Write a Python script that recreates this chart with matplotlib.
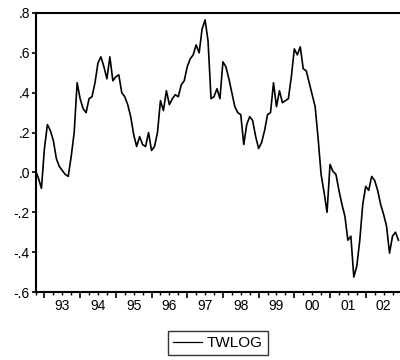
import numpy as np
import pandas as pd
import matplotlib
matplotlib.use("Agg")
import matplotlib.pyplot as plt
from matplotlib.ticker import MultipleLocator, FixedLocator, NullFormatter

plt.rcParams['font.family'] = ['Liberation Sans', 'DejaVu Sans']

# monthly TWLOG, 1992M10 - 2002M12
twlog = [
    0.01, -0.03, -0.08, 0.12, 0.24, 0.21, 0.16, 0.07, 0.03, 0.01,
    -0.01, -0.02, 0.08, 0.20, 0.45, 0.37, 0.32, 0.30, 0.37, 0.38,
    0.45, 0.55, 0.58, 0.53, 0.47, 0.58, 0.46, 0.48, 0.49, 0.40,
    0.38, 0.34, 0.28, 0.19, 0.13, 0.18, 0.14, 0.13, 0.20, 0.11,
    0.13, 0.20, 0.36, 0.31, 0.41, 0.34, 0.37, 0.39, 0.38, 0.44,
    0.46, 0.53, 0.57, 0.59, 0.64, 0.60, 0.72, 0.765, 0.66, 0.37,
    0.38, 0.42, 0.37, 0.555, 0.53, 0.47, 0.40, 0.33, 0.30, 0.29,
    0.14, 0.24, 0.28, 0.26, 0.18, 0.12, 0.15, 0.21, 0.29, 0.30,
    0.45, 0.33, 0.41, 0.35, 0.36, 0.37, 0.48, 0.62, 0.59, 0.63,
    0.52, 0.51, 0.45, 0.39, 0.33, 0.17, -0.01, -0.10, -0.20, 0.04,
    0.005, -0.01, -0.09, -0.16, -0.22, -0.34, -0.32, -0.525, -0.47, -0.34,
    -0.16, -0.07, -0.09, -0.02, -0.04, -0.09, -0.16, -0.21, -0.27, -0.405,
    -0.32, -0.30, -0.34,
]
dates = pd.date_range("1992-10-01", periods=len(twlog), freq="MS")
t = dates.year + (dates.month - 1) / 12.0

years = np.arange(1993, 2003)
year_labels = ["%02d" % (y % 100) for y in years]
y_ticks = [0.8, 0.6, 0.4, 0.2, 0.0, -0.2, -0.4, -0.6]
y_labels = [".8", ".6", ".4", ".2", ".0", "-.2", "-.4", "-.6"]

fig = plt.figure(figsize=(4, 3.6), dpi=100)
ax = fig.add_axes([35.5 / 400, 1 - 292 / 360, (402 - 35.5) / 400, (292 - 13) / 360])

ax.plot(t, twlog, color="black", linewidth=1.2, label="TWLOG")

ax.set_ylim(-0.6, 0.8)
ax.set_xlim(t[0], t[0] + (402 - 35.5) / 35.7)

ax.set_yticks(y_ticks)
ax.set_yticklabels(y_labels)

# long ticks at year starts, short ones each quarter, labels mid-year
ax.xaxis.set_major_locator(FixedLocator(np.arange(1993, 2004)))
ax.xaxis.set_major_formatter(NullFormatter())
ax.xaxis.set_minor_locator(MultipleLocator(0.25))
ax.tick_params(axis="x", which="major", direction="out", length=4.5, width=1.2)
ax.tick_params(axis="x", which="minor", direction="out", length=2, width=1.0)
ax.tick_params(axis="y", direction="out", length=3, width=1.2, labelsize=10, pad=1)
for y, lab in zip(years, year_labels):
    ax.text(y + 0.5, -0.633, lab, ha="center", va="top", fontsize=10)

for s in ax.spines.values():
    s.set_linewidth(1.5)

leg = fig.legend(loc="center", bbox_to_anchor=(218 / 400, 1 - 343 / 360),
                 fontsize=11, frameon=True, fancybox=False, edgecolor="black",
                 handlelength=1.9, handletextpad=0.3, borderpad=0.35,
                 borderaxespad=0)
leg.get_frame().set_linewidth(1.0)
leg.get_lines()[0].set_linewidth(0.9)

plt.savefig("out.png", dpi=100)
